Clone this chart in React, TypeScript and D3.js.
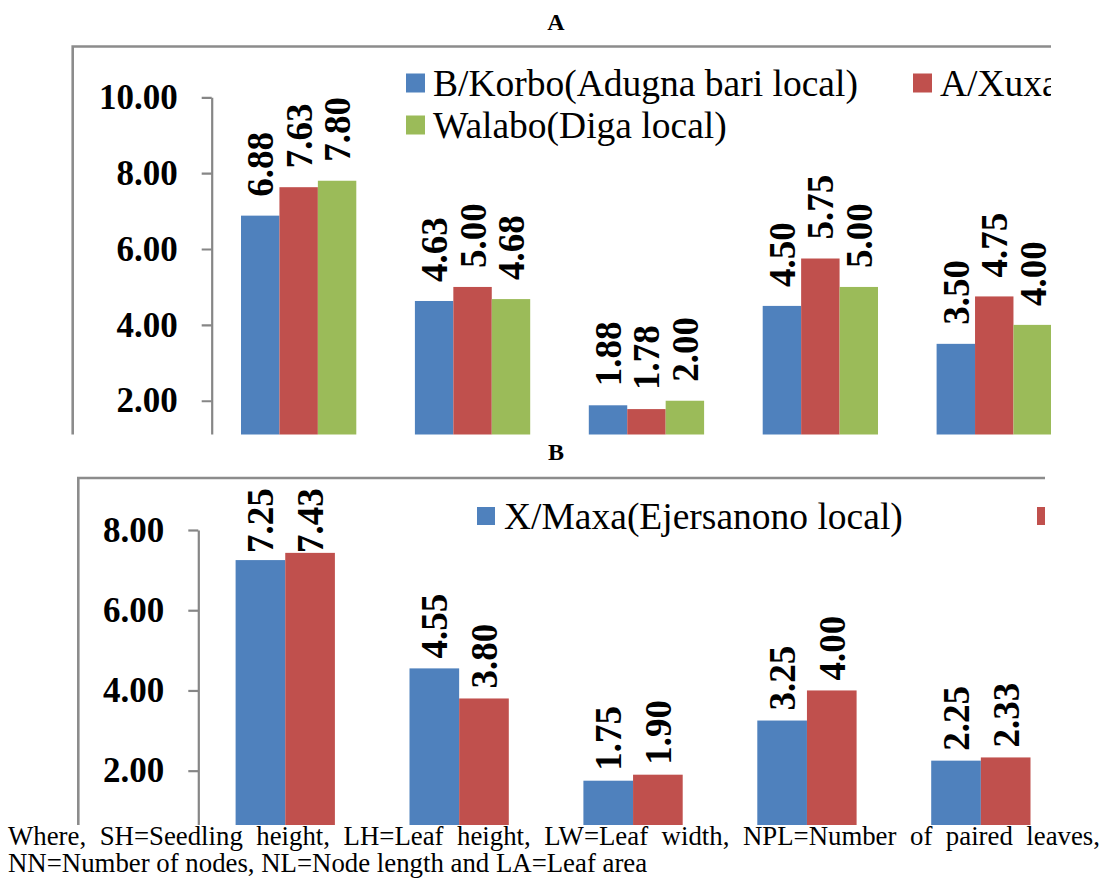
import React, { useEffect, useRef } from "react";
import * as d3 from "d3";

const categories = ["SH", "LH", "LW", "NPL", "NN"];
const seriesNamesA = ["B/Korbo(Adugna bari local)", "A/Xuxa", "Walabo(Diga local)"];
const korbo = [6.88, 4.63, 1.88, 4.5, 3.5];
const xuxa = [7.63, 5.0, 1.78, 5.75, 4.75];
const walabo = [7.8, 4.68, 2.0, 5.0, 4.0];
const seriesNamesB = ["X/Maxa(Ejersanono local)", ""];
const maxa = [7.25, 4.55, 1.75, 3.25, 2.25];
const secondB = [7.43, 3.8, 1.9, 4.0, 2.33];
const ticksA = [0, 2, 4, 6, 8, 10];
const ticksB = [0, 2, 4, 6, 8];
const colors = ["#4F81BD", "#C0504D", "#9BBB59"];
const captionLines = [
  "Where, SH=Seedling height, LH=Leaf height, LW=Leaf width, NPL=Number of paired leaves,",
  "NN=Number of nodes, NL=Node length and LA=Leaf area",
];

const FONT = "'Liberation Serif', 'Times New Roman', serif";

type Panel = {
  id: string;
  title: string;
  titleY: number;
  left: number;
  top: number;
  clipRight: number;
  clipBottom: number;
  axisX: number;
  yDomain: [number, number];
  yRange: [number, number];
  ticks: number[];
  band: number;
  groupFrac: number;
  names: string[];
  values: number[][];
  labelGap: number;
  labelTop: number;
  legend: { x: number; y: number; s: number; i: number }[];
  legendSize: number;
};

const panels: Panel[] = [
  {
    id: "A",
    title: "A",
    titleY: 30,
    left: 72.7,
    top: 46.5,
    clipRight: 1051,
    clipBottom: 434.5,
    axisX: 211.7,
    yDomain: [0, 10],
    yRange: [476.6, 97.3],
    ticks: ticksA,
    band: 173.9,
    groupFrac: 0.663,
    names: seriesNamesA,
    values: [korbo, xuxa, walabo],
    labelGap: 19,
    labelTop: 60,
    legend: [
      { x: 406, y: 73.5, s: 19, i: 0 },
      { x: 913, y: 73.5, s: 19, i: 1 },
      { x: 406, y: 115.5, s: 19, i: 2 },
    ],
    legendSize: 37.5,
  },
  {
    id: "B",
    title: "B",
    titleY: 460,
    left: 78.3,
    top: 478,
    clipRight: 1045,
    clipBottom: 825,
    axisX: 198.3,
    yDomain: [0, 8],
    yRange: [850.9, 530],
    ticks: ticksB,
    band: 173.9,
    groupFrac: 0.571,
    names: seriesNamesB,
    values: [maxa, secondB],
    labelGap: 10,
    labelTop: 488,
    legend: [
      { x: 477, y: 507, s: 18, i: 0 },
      { x: 1037, y: 507, s: 18, i: 1 },
    ],
    legendSize: 37.5,
  },
];

export default function App() {
  const ref = useRef<SVGSVGElement>(null);

  useEffect(() => {
    const svg = d3.select(ref.current);
    svg.selectAll("*").remove();

    panels.forEach((p) => {
      const clipId = "clip" + p.id;
      svg
        .append("clipPath")
        .attr("id", clipId)
        .append("rect")
        .attr("x", 0)
        .attr("y", p.top - 5)
        .attr("width", p.clipRight)
        .attr("height", p.clipBottom - p.top + 5);

      svg
        .append("text")
        .attr("x", 556)
        .attr("y", p.titleY)
        .attr("text-anchor", "middle")
        .attr("font-family", FONT)
        .attr("font-weight", "bold")
        .attr("font-size", 24)
        .text(p.title);

      const g = svg.append("g").attr("clip-path", `url(#${clipId})`);

      g.append("path")
        .attr(
          "d",
          `M${p.left},${p.clipBottom + 20}L${p.left},${p.top}L${p.clipRight + 20},${p.top}`
        )
        .attr("fill", "none")
        .attr("stroke", "#8c8c8c")
        .attr("stroke-width", 2.6);

      const y = d3.scaleLinear().domain(p.yDomain).range(p.yRange);
      const n = categories.length;
      const pad = 1 - p.groupFrac;
      const x0 = d3
        .scaleBand<string>()
        .domain(categories)
        .range([p.axisX, p.axisX + n * p.band])
        .paddingInner(pad)
        .paddingOuter(pad / 2);
      const x1 = d3
        .scaleBand<number>()
        .domain(d3.range(p.values.length))
        .range([0, x0.bandwidth()]);

      const axis = d3
        .axisLeft(y)
        .tickValues(p.ticks)
        .tickSize(10)
        .tickSizeOuter(0)
        .tickPadding(24)
        .tickFormat(d3.format(".2f"));
      const ag = g.append("g").attr("transform", `translate(${p.axisX},0)`).call(axis);
      ag.attr("font-family", FONT);
      ag.select(".domain").attr("stroke", "#868686").attr("stroke-width", 2.2);
      ag.selectAll(".tick line").attr("stroke", "#868686").attr("stroke-width", 2.2);
      ag.selectAll(".tick text")
        .attr("font-family", FONT)
        .attr("font-weight", "bold")
        .attr("font-size", 35)
        .attr("fill", "#000");

      p.values.forEach((vals, si) => {
        categories.forEach((c, ci) => {
          const v = vals[ci];
          const bx = (x0(c) as number) + (x1(si) as number);
          const bw = x1.bandwidth();
          g.append("rect")
            .attr("x", bx)
            .attr("y", y(v))
            .attr("width", bw)
            .attr("height", y(0) - y(v))
            .attr("fill", colors[si]);
          const start = Math.max(y(v) - p.labelGap, p.labelTop + 65);
          g.append("text")
            .attr("transform", `translate(${bx + bw / 2},${start}) rotate(-90)`)
            .attr("dy", "0.35em")
            .attr("text-anchor", "start")
            .attr("font-family", FONT)
            .attr("font-weight", "bold")
            .attr("font-size", 37)
            .text(d3.format(".2f")(v));
        });
      });

      p.legend.forEach((l) => {
        g.append("rect")
          .attr("x", l.x)
          .attr("y", l.y)
          .attr("width", l.s)
          .attr("height", l.s)
          .attr("fill", colors[l.i]);
        if (p.names[l.i]) {
          g.append("text")
            .attr("x", l.x + 27)
            .attr("y", l.y + l.s / 2)
            .attr("dy", "0.35em")
            .attr("font-family", FONT)
            .attr("font-size", p.legendSize)
            .text(p.names[l.i]);
        }
      });
    });

    const cap = svg.append("g");
    const baselines = [845, 872];
    captionLines.forEach((line, i) => {
      const t = cap
        .append("text")
        .attr("x", 8)
        .attr("y", baselines[i])
        .attr("font-family", FONT)
        .attr("font-size", 26.8)
        .attr("fill", "#000")
        .text(line);
      if (i === 0) {
        const len = (t.node() as SVGTextElement).getComputedTextLength();
        const spaces = line.split(" ").length - 1;
        const extra = Math.max(0, (1100 - 8 - len) / spaces);
        t.attr("word-spacing", extra);
      }
    });
  }, []);

  return (
    <svg
      ref={ref}
      width={1106}
      height={885}
      style={{ position: "absolute", left: 0, top: 0, background: "#fff" }}
    />
  );
}
